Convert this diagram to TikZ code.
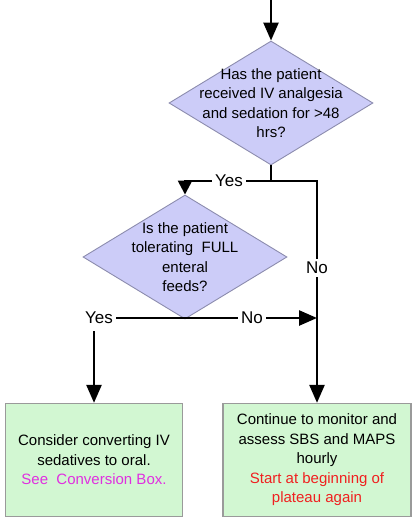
\documentclass[tikz,border=0pt]{standalone}
\usepackage{fontspec}
\setmainfont{Liberation Sans}
\usetikzlibrary{arrows.meta, shapes.geometric}
\definecolor{qfill}{HTML}{CCCCF8}
\definecolor{qline}{HTML}{8C8CAE}
\definecolor{bfill}{HTML}{D2F7D2}
\definecolor{bline}{HTML}{9A9A9A}
\definecolor{seec}{HTML}{E030E0}
\definecolor{redc}{HTML}{F02020}
\newcommand{\question}[3]{%
  \node[decision] (#1) at #2 {};
  \node[qtext] (#1t) at #2 {#3};
}

\begin{document}
\begin{tikzpicture}[x=1pt, y=-1pt, line width=2.5pt,
    >={Triangle[length=18pt, width=15pt]},
    decision/.style={diamond, draw=qline, fill=qfill, line width=0.9pt,
      minimum width=204pt, minimum height=124pt, inner sep=0pt},
    qtext/.style={align=center, inner sep=0pt,
      font=\fontsize{15}{19.5}\selectfont},
    outbox/.style={rectangle, draw=bline, fill=bfill, line width=1.3pt,
      minimum height=113pt, align=center, inner sep=0pt,
      font=\fontsize{15}{19.5}\selectfont},
    lbl/.style={inner sep=2pt, font=\fontsize{17}{20}\selectfont}]
  \useasboundingbox (0,0) rectangle (414,518);
  % questions
  \question{q1}{(271,103)}{Has the patient\\received IV analgesia\\and sedation for >48\\hrs?}
  \question{q2}{(185,257)}{Is the patient\\tolerating\ \ FULL\\enteral\\feeds?}
  % outcomes
  \node[outbox, minimum width=177pt] (b1) at (94,460)
    {Consider converting IV\\sedatives to oral.\\\textcolor{seec}{See\ \ Conversion Box.}};
  \node[outbox, minimum width=188pt] (b2) at (317,460)
    {Continue to monitor and\\assess SBS and MAPS\\hourly\\
     \textcolor{redc}{Start at beginning of}\\\textcolor{redc}{plateau again}};
  % labels
  \node[lbl] (yes1) at (229,181) {Yes};
  \node[lbl] (no1) at (317,268) {No};
  \node[lbl] (yes2) at (99,318) {Yes};
  \node[lbl] (no2) at (252,318) {No};
  \coordinate (top) at (271,0);
  \coordinate (j1) at (q1.south |- yes1);
  \coordinate (c1) at (q2.north |- yes1);
  \coordinate (c2) at (b2.north |- yes1);
  \coordinate (c3) at (b2.north |- no2);
  % connectors
  \draw[->] (top) -- (q1.north);
  \draw (q1.south) -- (j1) -- (yes1.east);
  \draw[-{Triangle[length=14pt, width=14pt]}] (yes1.west) -- (c1) -- (q2.north);
  \draw (j1) -- (c2) -- (no1.north);
  \draw[->] (no1.south) -- (b2.north);
  \draw (yes2.east) -- (no2.west);
  \draw[->] (no2.east) -- (c3);
  \draw[->] ([yshift=-4pt]yes2.south -| b1.north) -- (b1.north);
\end{tikzpicture}
\end{document}
